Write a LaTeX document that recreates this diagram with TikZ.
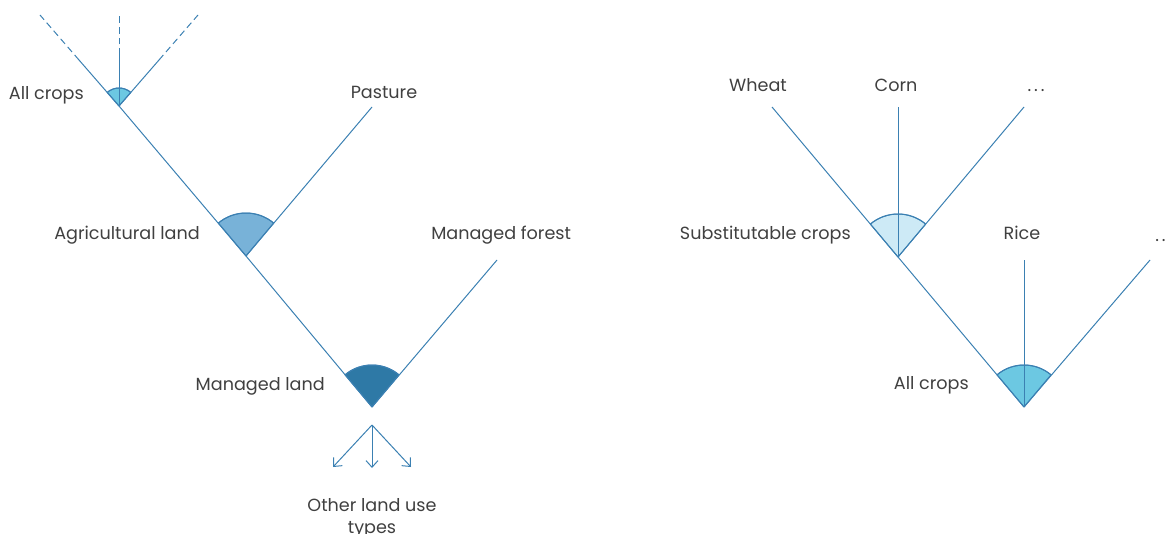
\documentclass[tikz,border=0pt]{standalone}
\usepackage{fontspec}
\setmainfont{Poppins}
\usetikzlibrary{arrows.meta}
\definecolor{edge}{HTML}{3B80B2}
\definecolor{txt}{HTML}{404040}
\definecolor{wedgeA}{HTML}{6CC8E2}
\definecolor{wedgeB}{HTML}{78B2D8}
\definecolor{wedgeC}{HTML}{2E79A6}
\definecolor{wedgeD}{HTML}{CDEAF6}
\newcommand{\dotsrow}{.\kern2.2pt.\kern2.2pt.}
\tikzset{
  branch/.style={draw=edge, line width=0.75pt},
  dashbranch/.style={draw=edge, line width=0.75pt, dash pattern=on 5pt off 3pt},
  lbl/.style={text=txt, font=\fontsize{13.2}{16.5}\selectfont, inner sep=0pt},
  fan/.style={draw=edge, line width=0.75pt, line join=round},
  outarrow/.style={draw=edge, line width=0.75pt, -{Straight Barb[length=5pt,width=9pt]}},
}
\begin{document}
\begin{tikzpicture}[x=0.75pt,y=0.75pt]
\useasboundingbox (0,0) rectangle (1169,533);

% ---------- land-use nesting tree ----------
\coordinate (crops) at (119,427);
\coordinate (agri) at (246,277);
\coordinate (managed) at (372,126);
\coordinate (pastureEnd) at (372,426);
\coordinate (forestEnd) at (497,273);
\coordinate (cL) at (40,518);
\coordinate (cM) at (119,518);
\coordinate (cR) at (198,518);
\coordinate (cLs) at (79,473);
\coordinate (cMs) at (119,478);
\coordinate (cRs) at (159,473);

% wedges
\fill[fan, fill=wedgeA] (crops) -- ++(131:18) arc[start angle=131, end angle=49, radius=18] -- cycle;
\fill[fan, fill=wedgeB] (agri) -- ++(130:43) arc[start angle=130, end angle=50, radius=43] -- cycle;
\fill[fan, fill=wedgeC] (managed) -- ++(130:42) arc[start angle=130, end angle=50, radius=42] -- cycle;
\draw[edge, line width=0.75pt] (crops) ++(131:18) arc[start angle=131, end angle=49, radius=18];
\draw[edge, line width=0.75pt] (agri) ++(130:43) arc[start angle=130, end angle=50, radius=43];
\draw[edge, line width=0.75pt] (managed) ++(130:42) arc[start angle=130, end angle=50, radius=42];

% branches
\draw[branch] (managed) -- (agri) -- (crops) -- (cLs);
\draw[dashbranch] (cLs) -- (cL);
\draw[branch] (crops) -- (cMs);
\draw[dashbranch] (cMs) -- (cM);
\draw[branch] (crops) -- (cRs);
\draw[dashbranch] (cRs) -- (cR);
\draw[branch] (agri) -- (pastureEnd);
\draw[branch] (managed) -- (forestEnd);

% outflows to other land use
\coordinate (split) at (372,108);
\coordinate (outL) at (333,66);
\coordinate (outM) at (372,65);
\coordinate (outR) at (411,66);
\draw[outarrow] (split) -- (outL);
\draw[outarrow] (split) -- (outM);
\draw[outarrow] (split) -- (outR);

\node[lbl, anchor=east] (tCrops) at (84,438) {All crops};
\node[lbl] (tPasture) at (384,441) {Pasture};
\node[lbl, anchor=east] (tAgri) at (200,298) {Agricultural land};
\node[lbl, anchor=west] (tForest) at (431,298) {Managed forest};
\node[lbl, anchor=east] (tManaged) at (325,147) {Managed land};
\node[lbl, align=center] (tOther) at (372,15) {Other land use\\types};

% ---------- crop nesting tree ----------
\coordinate (subst) at (898,276);
\coordinate (allcrops) at (1024,126);
\coordinate (wheatEnd) at (772,426);
\coordinate (cornEnd) at (898,426);
\coordinate (moreEnd) at (1024,426);
\coordinate (riceEnd) at (1024,273);
\coordinate (restEnd) at (1150,273);

\fill[fan, fill=wedgeD] (subst) -- ++(130:43) arc[start angle=130, end angle=50, radius=43] -- cycle;
\fill[fan, fill=wedgeA] (allcrops) -- ++(130:42) arc[start angle=130, end angle=50, radius=42] -- cycle;
\draw[edge, line width=0.75pt] (subst) ++(130:43) arc[start angle=130, end angle=50, radius=43];
\draw[edge, line width=0.75pt] (allcrops) ++(130:42) arc[start angle=130, end angle=50, radius=42];

\draw[branch] (allcrops) -- (subst) -- (wheatEnd);
\draw[branch] (subst) -- (cornEnd);
\draw[branch] (subst) -- (moreEnd);
\draw[branch] (allcrops) -- (riceEnd);
\draw[branch] (allcrops) -- (restEnd);

\node[lbl] (tWheat) at (758,448) {Wheat};
\node[lbl] (tCorn) at (896,448) {Corn};
\node[lbl, anchor=base] (tMore) at (1036,441) {\dotsrow};
\node[lbl, anchor=east] (tSubst) at (851,298) {Substitutable crops};
\node[lbl] (tRice) at (1022,300) {Rice};
\node[lbl, anchor=base west] (tRest) at (1155,292) {\dotsrow};
\node[lbl, anchor=east] (tAll) at (969,148) {All crops};
\end{tikzpicture}
\end{document}
